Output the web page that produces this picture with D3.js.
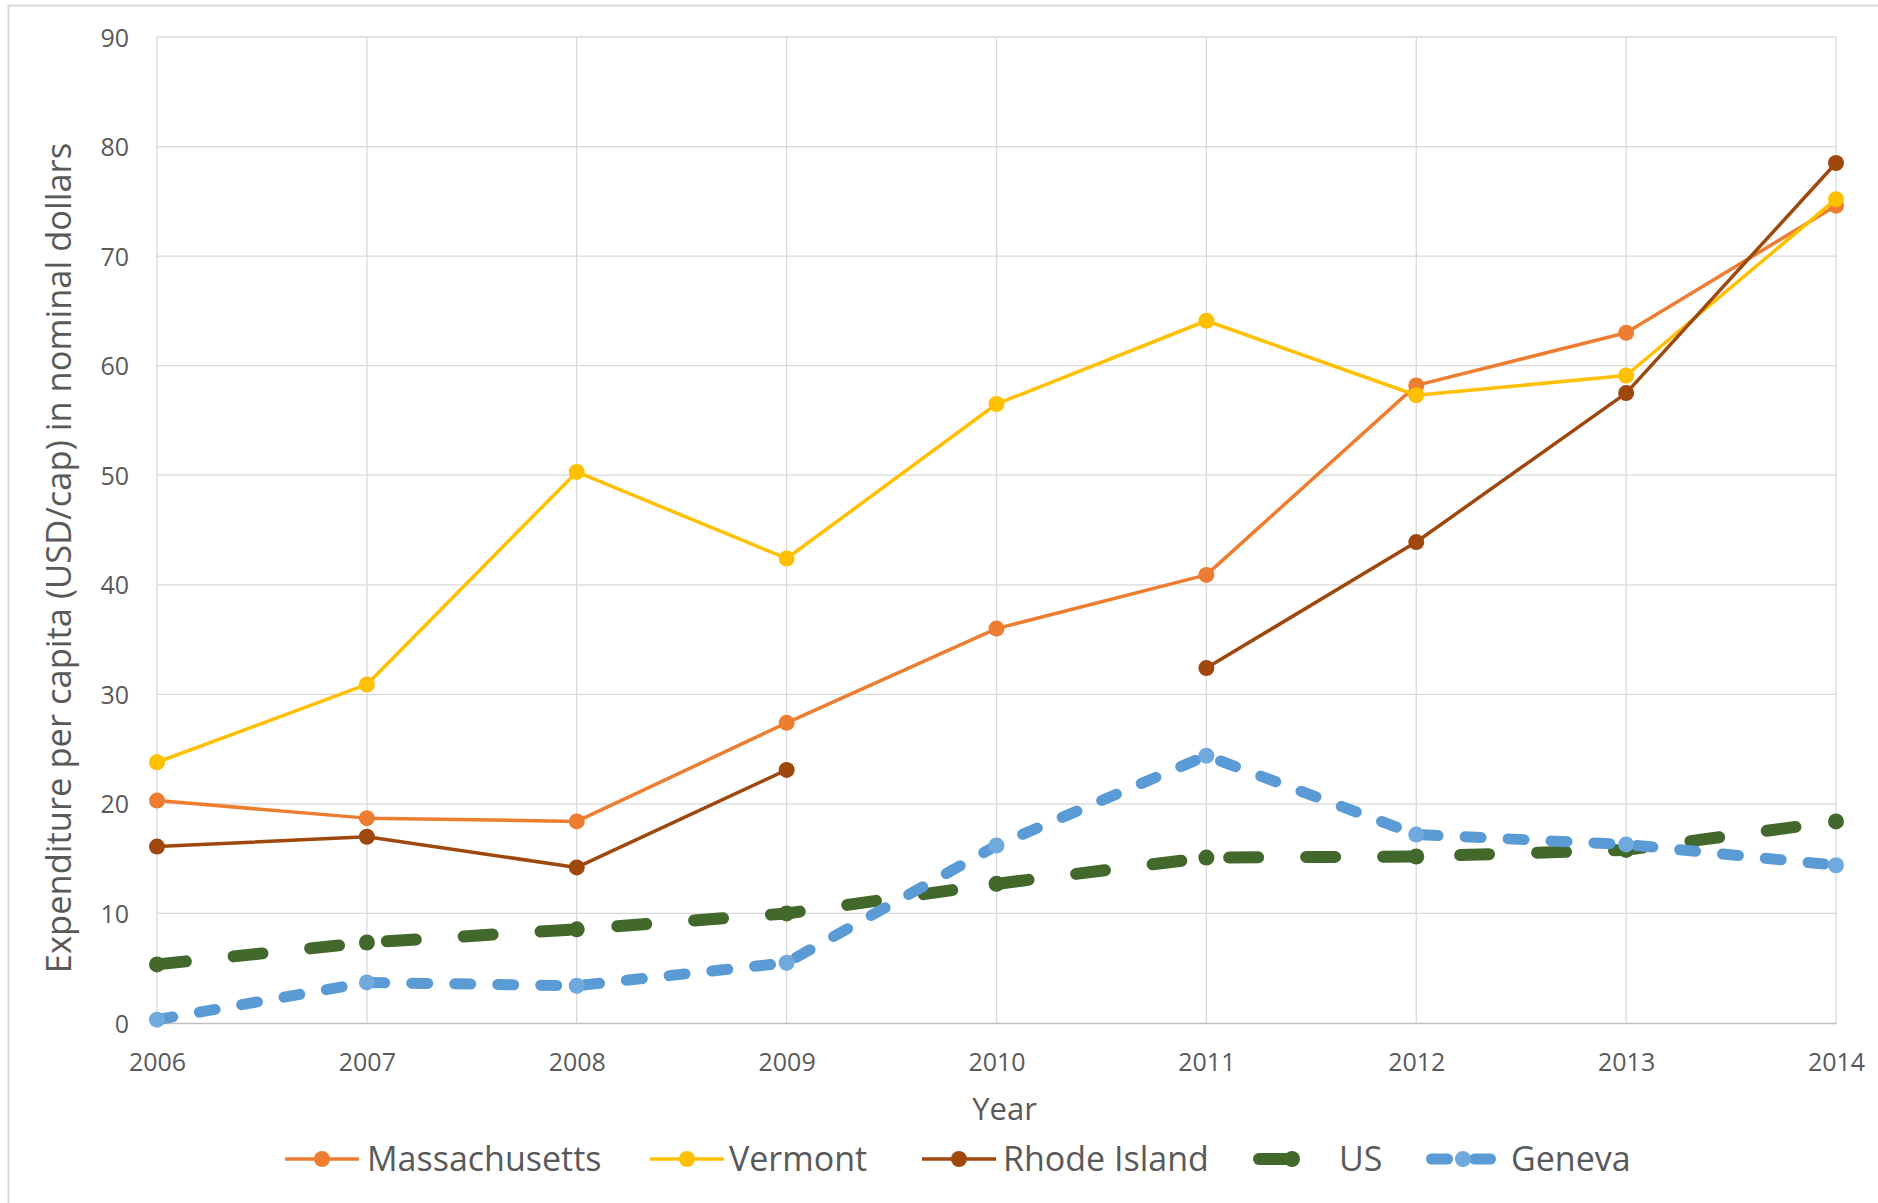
<!DOCTYPE html>
<html>
<head>
<meta charset="utf-8">
<script src="https://cdn.jsdelivr.net/npm/d3@7"></script>
<style>
  html, body { margin: 0; padding: 0; background: #ffffff; }
  svg { display: block; }
  text { font-family: "Open Sans", "Noto Sans", sans-serif; fill: #595959; }
</style>
</head>
<body>
<svg id="chart" width="1878" height="1203"></svg>
<script>
// ---- Data ----
const years = [2006, 2007, 2008, 2009, 2010, 2011, 2012, 2013, 2014];
const yTicks = [0, 10, 20, 30, 40, 50, 60, 70, 80, 90];
const massachusetts = [20.3, 18.7, 18.4, 27.4, 36.0, 40.9, 58.2, 63.0, 74.6];
const vermont       = [23.8, 30.9, 50.3, 42.4, 56.5, 64.1, 57.3, 59.1, 75.2];
const rhodeIsland   = [16.1, 17.0, 14.2, 23.1, null, 32.4, 43.9, 57.5, 78.5];
const usValues      = [5.35, 7.35, 8.55, 10.0, 12.7, 15.1, 15.2, 15.8, 18.4];
const geneva        = [0.3, 3.7, 3.4, 5.5, 16.2, 24.4, 17.2, 16.3, 14.4];
const seriesNames = ["Massachusetts", "Vermont", "Rhode Island", "US", "Geneva"];
const yTitle = "Expenditure per capita (USD/cap) in nominal dollars";
const xTitle = "Year";

// ---- Styles ----
const styles = [
  { values: massachusetts, color: "#ED7D31", marker: "#ED7D31", width: 3.5, dash: null, r: 8 },
  { values: vermont,       color: "#FFC000", marker: "#FFC000", width: 3.5, dash: null, r: 8 },
  { values: rhodeIsland,   color: "#9E480E", marker: "#9E480E", width: 3.5, dash: null, r: 8 },
  { values: usValues,      color: "#43682B", marker: "#43682B", width: 12, dash: "29,48", r: 8 },
  { values: geneva,        color: "#5B9BD5", marker: "#6FA9DD", width: 11, dash: "16,27", r: 8 }
];

const svg = d3.select("#chart");

// outer chart border (left/top visible)
svg.append("rect")
  .attr("x", 8.5).attr("y", 5.5)
  .attr("width", 1900).attr("height", 1300)
  .attr("fill", "none").attr("stroke", "#D9D9D9").attr("stroke-width", 2);

const x = d3.scaleLinear().domain([2006, 2014]).range([157, 1836]);
const y = d3.scaleLinear().domain([0, 90]).range([1023, 37]);

// gridlines
const grid = svg.append("g");
grid.selectAll("line.h").data(yTicks.filter(d => d > 0)).join("line")
  .attr("x1", x(2006)).attr("x2", x(2014))
  .attr("y1", d => y(d)).attr("y2", d => y(d))
  .attr("stroke", "#D9D9D9").attr("stroke-width", 1.3);
grid.selectAll("line.v").data(years).join("line")
  .attr("x1", d => x(d)).attr("x2", d => x(d))
  .attr("y1", y(90)).attr("y2", y(0))
  .attr("stroke", "#D9D9D9").attr("stroke-width", 1.3);

// x axis
const xAxis = d3.axisBottom(x).tickValues(years).tickFormat(d3.format("d")).tickSize(0).tickPadding(0);
const gx = svg.append("g").attr("transform", `translate(0,${y(0)})`).call(xAxis);
gx.select(".domain").attr("stroke", "#BFBFBF").attr("stroke-width", 1.6);
gx.selectAll("text")
  .attr("dy", null).attr("y", 48)
  .style("font-family", '"Open Sans", sans-serif')
  .style("font-size", "25px").attr("fill", "#595959");

// y axis
const yAxis = d3.axisLeft(y).tickValues(yTicks).tickSize(0).tickPadding(0);
const gy = svg.append("g").attr("transform", `translate(${x(2006)},0)`).call(yAxis);
gy.select(".domain").remove();
gy.selectAll("text")
  .attr("x", -28).attr("dy", "0.36em")
  .style("font-family", '"Open Sans", sans-serif')
  .style("font-size", "25px").attr("fill", "#595959");

// axis titles
svg.append("text")
  .attr("transform", `translate(71,${(y(0) + y(90)) / 2 + 28}) rotate(-90)`)
  .attr("text-anchor", "middle")
  .style("font-size", "34.5px")
  .text(yTitle);
svg.append("text")
  .attr("x", (x(2006) + x(2014)) / 2 + 8).attr("y", 1120)
  .attr("text-anchor", "middle")
  .style("font-size", "31px")
  .text(xTitle);

// series
const line = d3.line()
  .defined(d => d.v !== null)
  .x(d => x(d.year)).y(d => y(d.v));

const plot = svg.append("g");
styles.forEach(s => {
  const pts = years.map((yr, i) => ({ year: yr, v: s.values[i] }));
  plot.append("path")
    .datum(pts)
    .attr("d", line)
    .attr("fill", "none")
    .attr("stroke", s.color)
    .attr("stroke-width", s.width)
    .attr("stroke-linejoin", "round")
    .attr("stroke-linecap", s.dash ? "round" : "butt")
    .attr("stroke-dasharray", s.dash);
  plot.selectAll(null).data(pts.filter(d => d.v !== null)).join("circle")
    .attr("cx", d => x(d.year)).attr("cy", d => y(d.v))
    .attr("r", s.r).attr("fill", s.marker);
});

// legend
const legendLineX = [285, 650, 922, 1253, 1426];
const legendTextX = [367, 729, 1003, 1339, 1511];
const legendY = 1159;
const legend = svg.append("g");
seriesNames.forEach((name, i) => {
  const s = styles[i];
  const x0 = legendLineX[i];
  const pad = s.dash ? s.width / 2 : 0;
  legend.append("line")
    .attr("x1", x0 + pad).attr("x2", x0 + 74 - pad)
    .attr("y1", legendY).attr("y2", legendY)
    .attr("stroke", s.color).attr("stroke-width", s.width)
    .attr("stroke-linecap", s.dash ? "round" : "butt")
    .attr("stroke-dasharray", s.dash);
  const mx = i === 3 ? x0 + 39 : x0 + 37;
  legend.append("circle")
    .attr("cx", mx).attr("cy", legendY).attr("r", s.r).attr("fill", s.marker);
  legend.append("text")
    .attr("x", legendTextX[i]).attr("y", legendY)
    .attr("dy", "0.36em")
    .style("font-size", "34px")
    .text(name);
});
</script>
</body>
</html>
